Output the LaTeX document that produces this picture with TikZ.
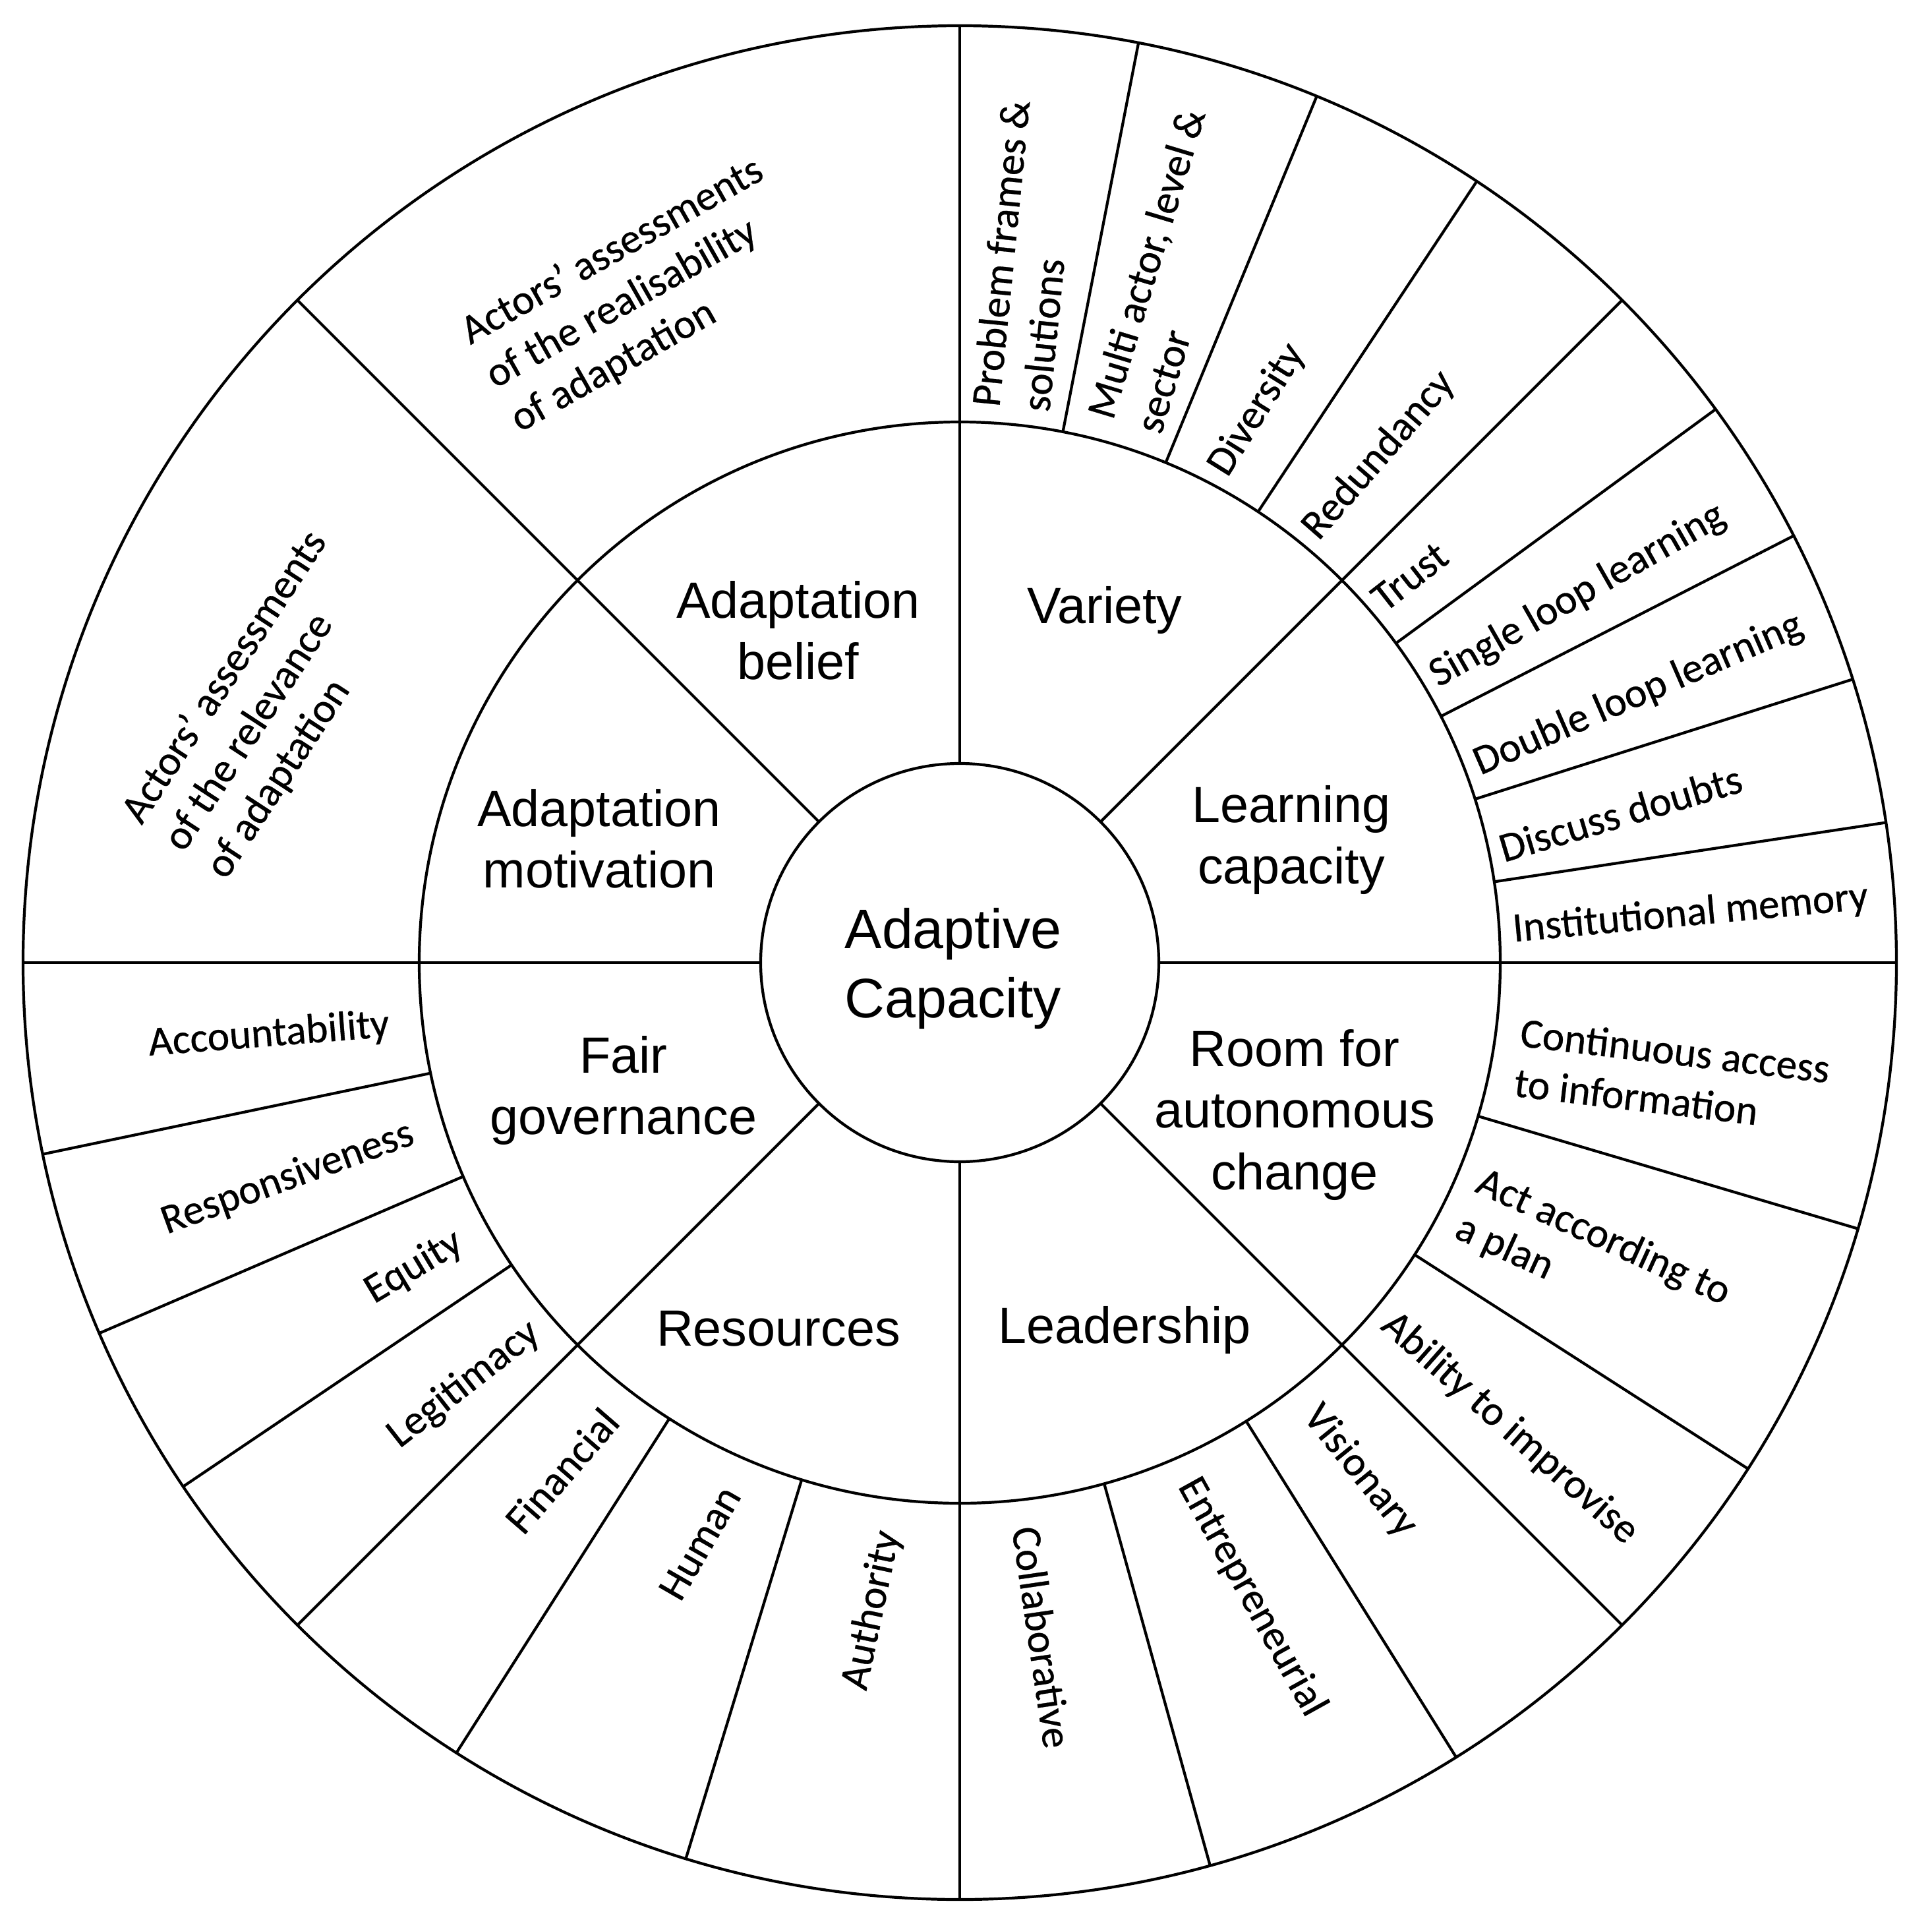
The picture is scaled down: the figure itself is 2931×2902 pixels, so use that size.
\documentclass[tikz,border=0pt]{standalone}
\usepackage{fontspec}
\setmainfont{Liberation Sans}
\newfontfamily\outerfont[FakeBold=0.5]{Carlito}
\begin{document}
\begin{tikzpicture}[x=0.01cm,y=0.01cm,
  ringline/.style={line width=1.2pt, black},
  midlabel/.style={font=\fontsize{22}{26.5}\selectfont, align=center, inner sep=0pt},
  corelabel/.style={font=\fontsize{24}{30}\selectfont, align=center, inner sep=0pt},
  outlabel/.style={font=\outerfont\fontsize{18}{21.7}\selectfont, align=left, inner sep=0pt},
  outR/.style={outlabel, anchor=west},
  outL/.style={outlabel, anchor=east},
  outC/.style={outlabel, anchor=center},
]
\path[use as bounding box, fill=white] (-1456,-1442) rectangle (1475,1460);

% rings
\draw[ringline] (0,0) circle[radius=1421];
\draw[ringline] (0,0) circle[radius=820];
\draw[ringline] (0,0) circle[radius=302];

% main spokes (inner circle to outer circle)
\foreach \a in {0,45,90,135,180,225,270,315}
  \draw[ringline] (\a:302) -- (\a:1421);

% sub-division spokes (middle ring to outer circle)
\foreach \a in {79,67.6,56.5,36.2,27.1,17.6,8.6,-16.5,-32.7,-58,-74.5,-107,-122.5,-146,-156.7,-168.2}
  \draw[ringline] (\a:820) -- (\a:1421);

% centre
\node[corelabel] (core) at (-10,-9) {Adaptive\\Capacity};

% middle ring
\node[midlabel] (belief) at (-245,504) {Adaptation\\belief};
\node[midlabel] (variety) at (220,535) {Variety};
\node[midlabel] (learning) at (503,186) {Learning\\capacity};
\node[midlabel] (room) at (508,-231) {Room for\\autonomous\\change};
\node[midlabel] (leader) at (250,-557) {Leadership};
\node[midlabel] (resources) at (-275,-555) {Resources};
\node[midlabel] (fair) at (-510,-194) {Fair\\governance};
\node[midlabel] (motivation) at (-547,188) {Adaptation\\motivation};

% outer ring, right half
\node[outR, rotate=84.3] (o1) at (84.8:843) {Problem frames \&\\solutions};
\node[outR, rotate=73.2] (o2) at (73.1:853) {Multi actor, level \&\\sector};
\node[outR, rotate=58] (o3) at (62.2:840) {Diversity};
\node[outR, rotate=48.9] (o4) at (50.7:839) {Redundancy};
\node[outR, rotate=38] (o5) at (40.8:835) {Trust};
\node[outR, rotate=29.7] (o6) at (31:837) {Single loop learning};
\node[outR, rotate=23.5] (o7) at (20.9:838) {Double loop learning};
\node[outR, rotate=16.5] (o8) at (11.9:837) {Discuss doubts};
\node[outR, rotate=5.3] (o9) at (3.3:840) {Institutional memory};
\node[outR, rotate=-6.8] (o10) at (-9.6:858) {Continuous access\\to information};
\node[outR, rotate=-24.6] (o11) at (-25.4:853) {Act according to\\a plan};
\node[outR, rotate=-41.5] (o12) at (-39.9:844) {Ability to improvise};
\node[outR, rotate=-51] (o13) at (-51.9:862) {Visionary};
\node[outR, rotate=-61] (o14) at (-66.3:858) {Entrepreneurial};
\node[outR, rotate=-81.7] (o15) at (-83.3:861) {Collaborative};

% outer ring, lower left
\node[outL, rotate=4.5] (o16) at (186.3:870) {Accountability};
\node[outL, rotate=20] (o17) at (197.3:869) {Responsiveness};
\node[outL, rotate=31] (o18) at (209:867) {Equity};
\node[outL, rotate=38] (o19) at (220.8:850) {Legitimacy};
\node[outL, rotate=49] (o20) at (232.3:865) {Financial};
\node[outL, rotate=60] (o21) at (246.5:871) {Human};
\node[outL, rotate=78] (o22) at (262.9:869) {Authority};

% outer ring, upper left
\node[outC, rotate=29.5] (o23) at (115.8:1124) {Actors’ assessments\\of the realisability\\of adaptation};
\node[outC, rotate=56.8] (o24) at (159.6:1121) {Actors’ assessments\\of the relevance\\of adaptation};
\end{tikzpicture}
\end{document}
